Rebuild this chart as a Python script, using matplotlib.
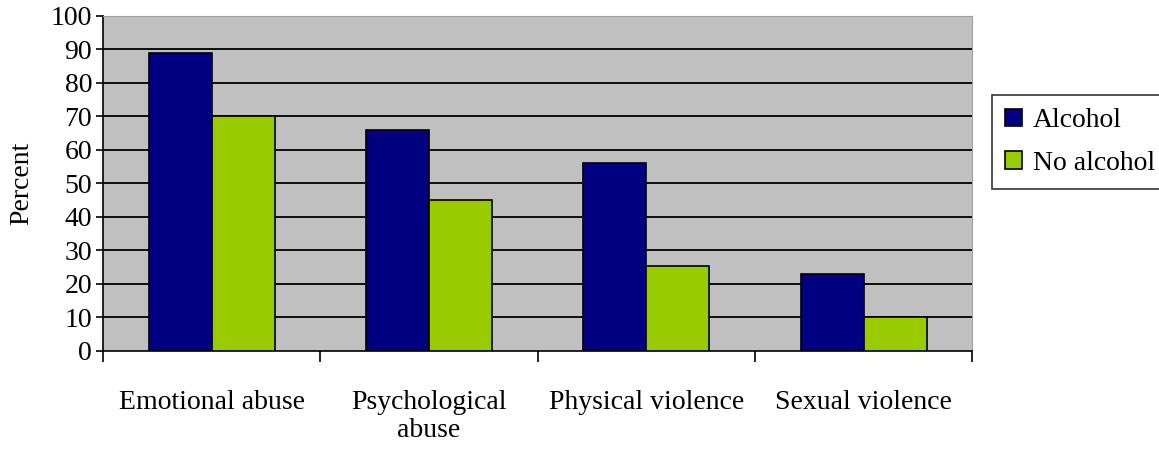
import matplotlib.pyplot as plt
import numpy as np

categories = ["Emotional abuse", "Psychological\nabuse", "Physical violence", "Sexual violence"]
alcohol = [89, 66, 56, 23]
no_alcohol = [70, 45, 25.5, 10]

plt.rcParams["font.family"] = ["Liberation Serif", "DejaVu Serif"]

fig = plt.figure(figsize=(11.59, 4.5), dpi=100)
ax = fig.add_axes([0.089, 0.22, 0.750, 0.745])

x = np.arange(len(categories))
w = 0.29
ax.bar(x - w / 2, alcohol, w, color="#000080", edgecolor="black", linewidth=1.2,
       label="Alcohol", zorder=3)
ax.bar(x + w / 2, no_alcohol, w, color="#99cc00", edgecolor="black", linewidth=1.2,
       label="No alcohol", zorder=3)

ax.set_facecolor("#c0c0c0")
ax.set_xlim(-0.5, len(categories) - 0.5)
ax.set_ylim(0, 100)
ax.set_yticks(range(0, 101, 10))
for yv in range(10, 100, 10):
    ax.axhline(yv, color="black", linewidth=1.3, zorder=1)

ax.set_xticks(np.arange(-0.5, len(categories), 1.0))
ax.set_xticklabels([])
ax.set_xticks(x, minor=True)
ax.set_xticklabels(categories, minor=True, fontsize=20, linespacing=1.15)
ax.tick_params(axis="x", which="minor", length=0, pad=28)
ax.tick_params(axis="x", which="major", length=8, width=1.2, direction="out")
ax.tick_params(axis="y", length=5, width=1.2, labelsize=20, pad=3)

ax.spines["top"].set_color("#a0a0a0")
ax.spines["right"].set_color("#a0a0a0")
ax.spines["left"].set_linewidth(1.2)
ax.spines["bottom"].set_linewidth(1.2)

ax.set_ylabel("Percent", fontsize=20, labelpad=12)

leg = fig.legend(loc="upper left", bbox_to_anchor=(0.856, 0.789), fontsize=20,
                 frameon=True, fancybox=False, edgecolor="black",
                 handlelength=0.6, handleheight=0.6, handletextpad=0.4,
                 labelspacing=0.62, borderpad=0.48, borderaxespad=0)
leg.get_frame().set_linewidth(1.2)

plt.savefig("out.png", dpi=100)
